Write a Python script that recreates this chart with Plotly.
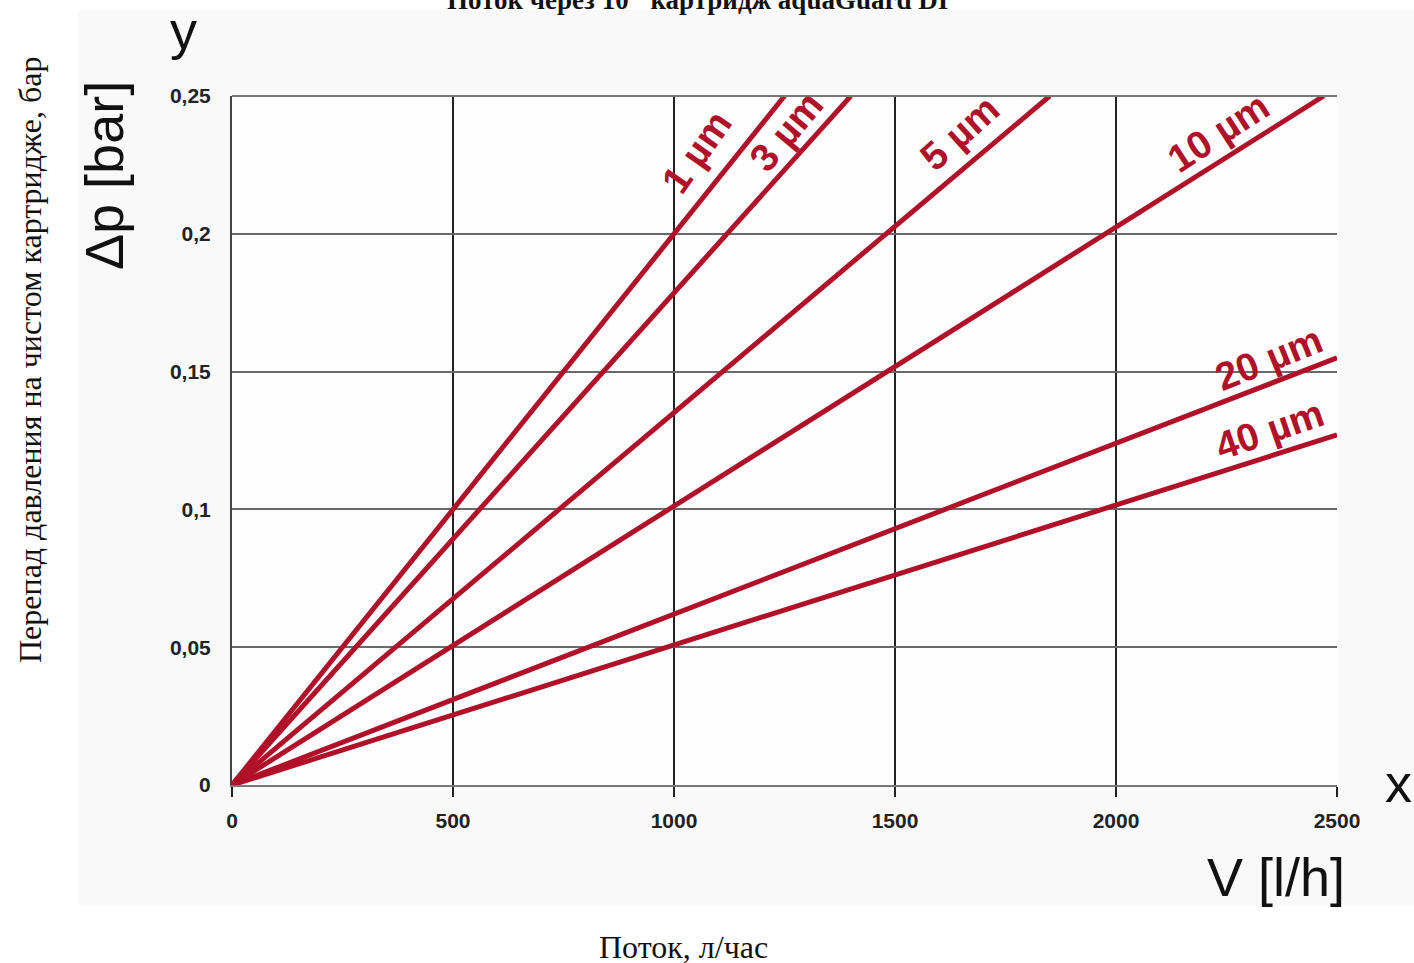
import plotly.graph_objects as go

# ---------------- data ----------------
series_names = ["1 µm", "3 µm", "5 µm", "10 µm", "20 µm", "40 µm"]
flow_start = [0, 0, 0, 0, 0, 0]
dp_start = [0, 0, 0, 0, 0, 0]
flow_end = [1250, 1400, 1850, 2470, 2500, 2500]
dp_end = [0.25, 0.25, 0.25, 0.25, 0.155, 0.127]

x_tick_vals = [0, 500, 1000, 1500, 2000, 2500]
x_tick_text = ["0", "500", "1000", "1500", "2000", "2500"]
y_tick_vals = [0, 0.05, 0.1, 0.15, 0.2, 0.25]
y_tick_text = ["0", "0,05", "0,1", "0,15", "0,2", "0,25"]

# label placement (layout, not data)
label_x = [1052, 1253, 1647, 2231, 2344, 2348]
label_y = [0.2297, 0.2373, 0.2366, 0.2366, 0.1549, 0.1289]
label_angle = [-55, -50, -42, -33, -22, -19]

RED = "#b01028"
W, H = 1414, 963
ML, MT = 232, 96
MR = W - 1337
MB = H - 785
PW, PH = W - ML - MR, H - MT - MB


def px_x(p):
    return (p - ML) / PW


def px_y(p):
    return (H - MB - p) / PH


fig = go.Figure()
for name, x0, y0, x1, y1 in zip(series_names, flow_start, dp_start, flow_end, dp_end):
    fig.add_trace(go.Scatter(x=[x0, x1], y=[y0, y1], mode="lines", name=name,
                             line=dict(color=RED, width=5), showlegend=False,
                             cliponaxis=False, hoverinfo="skip"))

annotations = []
for name, lx, ly, ang in zip(series_names, label_x, label_y, label_angle):
    annotations.append(dict(x=lx, y=ly, xref="x", yref="y", text=name, showarrow=False,
                            xanchor="center", yanchor="middle",
                            textangle=ang, font=dict(family="Liberation Sans, Arial", size=39,
                                                     color=RED, weight="bold")))

big = dict(family="Liberation Sans, Arial", size=54, color="#111")
serif = dict(family="Liberation Serif, Times New Roman", size=32, color="#111")
extra = [
    (183, 30, "y", 0, big),
    (104, 176, "Δp [bar]", -90, big),
    (1398, 783, "x", 0, big),
    (1276, 877, "V [l/h]", 0, big),
    (30, 360, "Перепад давления на чистом картридже, бар", -90, serif),
    (683, 947, "Поток, л/час", 0, serif),
    (697, 0, "Поток через 10\" картридж aquaGuard DI", 0,
     dict(family="Liberation Serif, Times New Roman", size=27, color="#111", weight="bold")),
]
for px, py, txt, ang, fnt in extra:
    annotations.append(dict(x=px_x(px), y=px_y(py), xref="paper", yref="paper", text=txt,
                            showarrow=False, textangle=ang, xanchor="center",
                            yanchor="middle", font=fnt))

shapes = [
    dict(type="rect", xref="paper", yref="paper", x0=px_x(78), x1=px_x(1430), y0=px_y(905),
         y1=px_y(10), fillcolor="#f9f9f9", line=dict(width=0), layer="below"),
    dict(type="rect", xref="paper", yref="paper", x0=0, x1=1, y0=0, y1=1,
         fillcolor="#fdfdfd", line=dict(width=0), layer="below"),
]

tick_font = dict(family="Liberation Sans, Arial", size=21, color="#222", weight="bold")
fig.update_layout(
    width=W, height=H,
    margin=dict(l=ML, r=MR, t=MT, b=MB),
    paper_bgcolor="white", plot_bgcolor="rgba(0,0,0,0)",
    annotations=annotations, shapes=shapes,
    xaxis=dict(range=[0, 2500], tickvals=x_tick_vals, ticktext=x_tick_text,
               showgrid=True, gridcolor="#222", gridwidth=1.5, zeroline=False,
               showline=True, linecolor="#777", linewidth=2, mirror=False,
               ticks="outside", ticklen=10, tickwidth=1.5, tickcolor="#222",
               tickfont=tick_font, ticklabelstandoff=6),
    yaxis=dict(range=[0, 0.25], tickvals=y_tick_vals, ticktext=y_tick_text,
               showgrid=True, gridcolor="#6a6a6a", gridwidth=1.5, zeroline=False,
               showline=True, linecolor="#444", linewidth=2,
               ticks="", tickfont=tick_font, ticklabelstandoff=15),
)
fig.add_shape(type="line", xref="paper", yref="paper", x0=0, x1=1, y0=1, y1=1,
              line=dict(color="#777", width=2))

fig.write_html("out.html", config={"displayModeBar": False},
               post_script="document.body.style.margin='0';document.body.style.overflow='hidden';")
